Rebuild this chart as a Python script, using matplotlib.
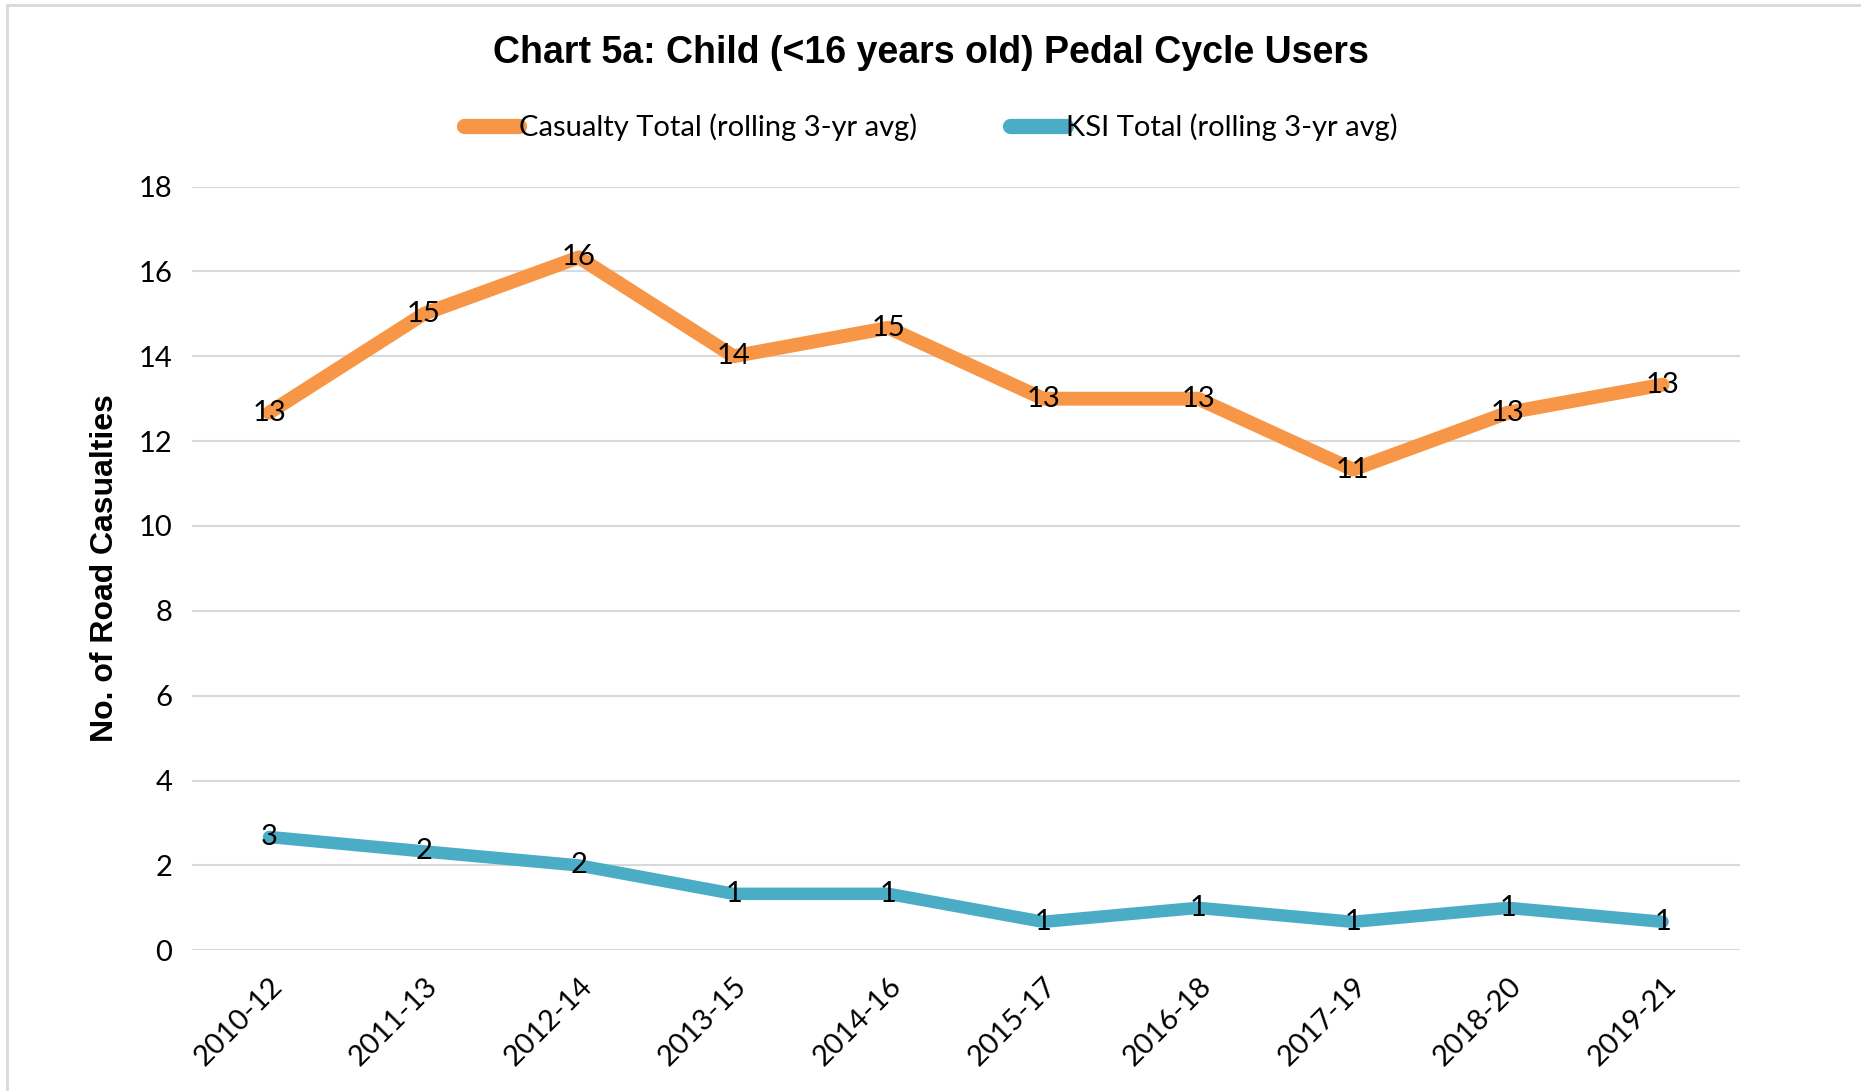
import matplotlib.pyplot as plt
from matplotlib.patches import Rectangle

periods = ["2010-12", "2011-13", "2012-14", "2013-15", "2014-16",
           "2015-17", "2016-18", "2017-19", "2018-20", "2019-21"]
casualty_avg = [12.67, 15.0, 16.33, 14.0, 14.67, 13.0, 13.0, 11.33, 12.67, 13.33]
ksi_avg = [2.67, 2.33, 2.0, 1.33, 1.33, 0.67, 1.0, 0.67, 1.0, 0.67]

orange = "#F79646"
blue = "#4BACC6"
txt_font = "Lato"
fs = 21

fig = plt.figure(figsize=(18.61, 10.91), dpi=100)
ax = fig.add_axes([0.103, 0.129, 0.832, 0.70])

x = list(range(len(periods)))
ax.plot(x, casualty_avg, color=orange, linewidth=10, solid_joinstyle="round",
        solid_capstyle="round", label="Casualty Total (rolling 3-yr avg)")
ax.plot(x, ksi_avg, color=blue, linewidth=9, solid_joinstyle="round",
        solid_capstyle="round", label="KSI Total (rolling 3-yr avg)")

# data labels centred on the points
for xi, v in zip(x, casualty_avg):
    ax.text(xi, v, str(round(v)), ha="center", va="center", fontsize=fs,
            family=txt_font, zorder=5)
for xi, v in zip(x, ksi_avg):
    ax.text(xi, v, str(round(v)), ha="center", va="center", fontsize=fs,
            family=txt_font, zorder=5)

ax.set_xlim(-0.5, len(periods) - 0.5)
ax.set_ylim(0, 18)
ax.set_yticks(range(0, 19, 2))
ax.set_xticks(x)
ax.set_xticklabels(periods, rotation=45, ha="right", rotation_mode="anchor",
                   fontsize=fs, family=txt_font)
for lab in ax.get_yticklabels():
    lab.set_fontsize(fs)
    lab.set_family(txt_font)
ax.tick_params(length=0, pad=14)
ax.tick_params(axis="x", pad=16)
ax.grid(axis="y", color="#D9D9D9", linewidth=1.5)
ax.set_axisbelow(True)
for s in ax.spines.values():
    s.set_visible(False)

ax.set_ylabel("No. of Road Casualties", fontsize=23, fontweight="bold",
              family="Liberation Sans", labelpad=13)

fig.suptitle("Chart 5a: Child (<16 years old) Pedal Cycle Users", x=0.5, y=0.968,
             fontsize=27, fontweight="bold", family="Liberation Sans")

leg = fig.legend(loc="center", bbox_to_anchor=(0.5, 0.883), ncol=2, frameon=False,
                 prop={"family": txt_font, "size": fs}, handlelength=1.9,
                 handletextpad=0.0, columnspacing=3.2)
for h in leg.legend_handles:
    h.set_linewidth(11)

# light chart-area border
fig.patches.append(Rectangle((0.004, -0.01), 1.1, 1.005, transform=fig.transFigure,
                             fill=False, edgecolor="#D9D9D9", linewidth=2))

plt.savefig("out.png", dpi=100)
